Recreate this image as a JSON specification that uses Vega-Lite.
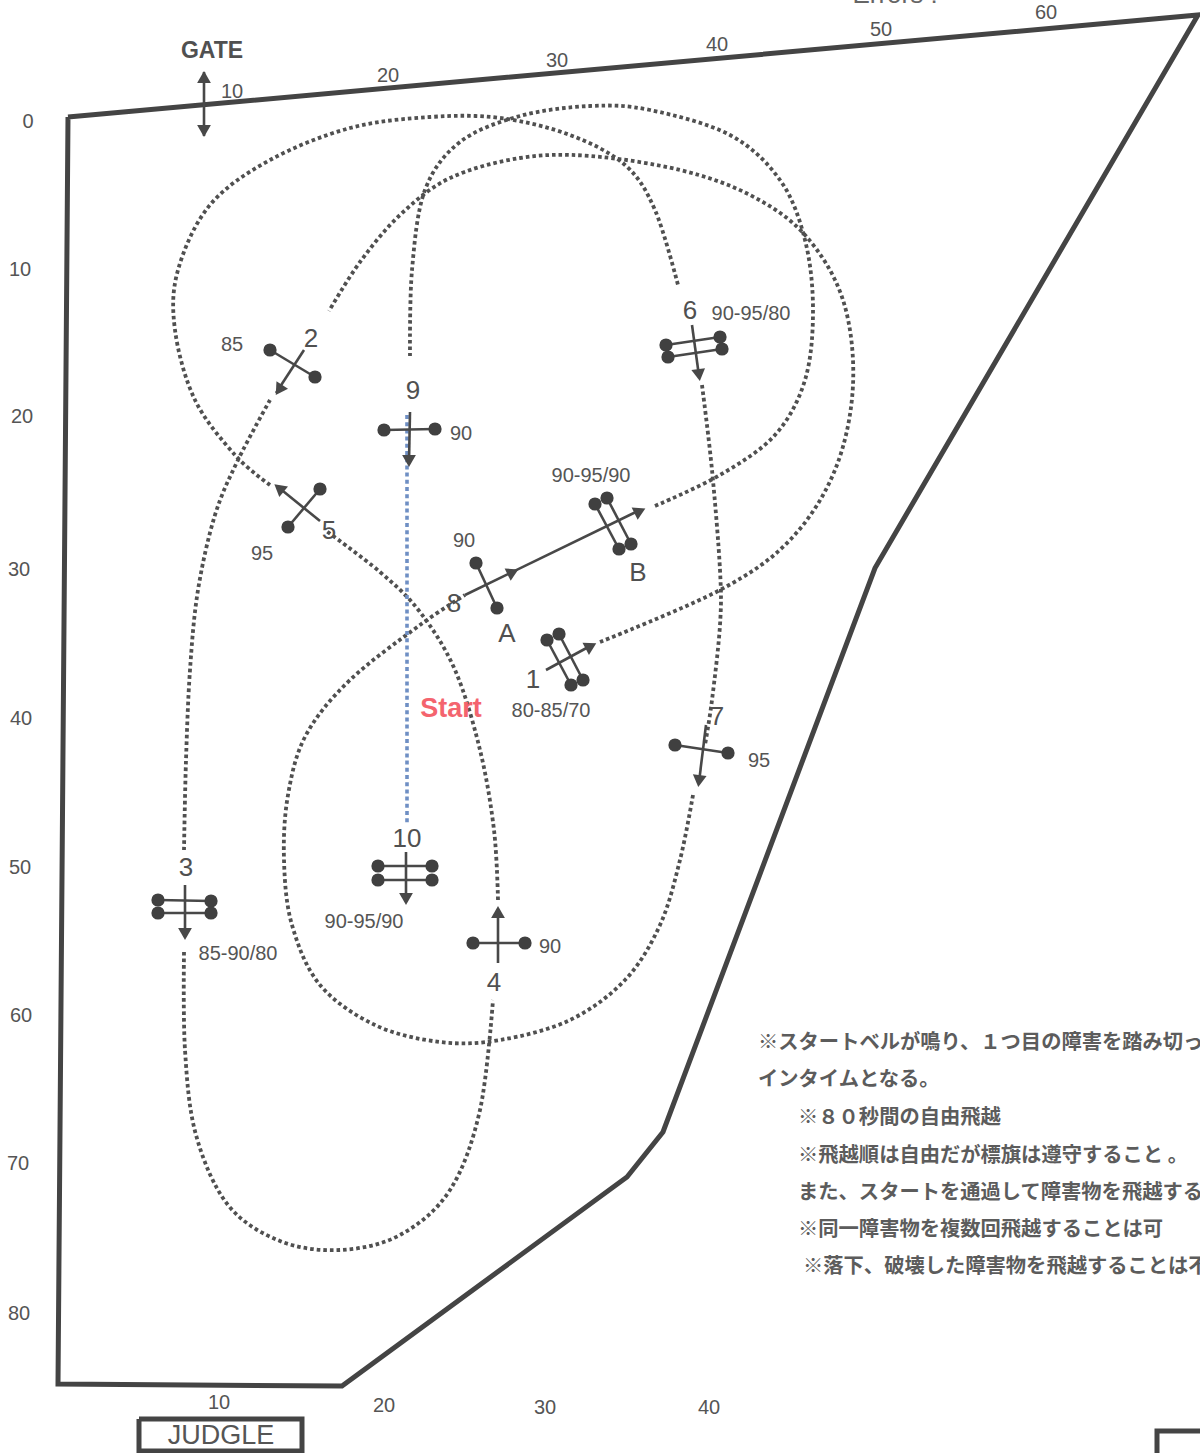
{"$schema":"https://vega.github.io/schema/vega-lite/v6.json","autosize":{"type":"none"},"width":1200,"height":1453,"padding":0,"background":"white","view":{"stroke":null},
"datasets":{
"walls":[{"p":"fence","i":0,"x":68,"y":117},{"p":"fence","i":1,"x":1198,"y":15},{"p":"fence","i":2,"x":875,"y":568},{"p":"fence","i":3,"x":663,"y":1132},{"p":"fence","i":4,"x":627,"y":1177},{"p":"fence","i":5,"x":342,"y":1386},{"p":"fence","i":6,"x":58,"y":1384},{"p":"fence","i":7,"x":68,"y":117},
{"p":"judge","i":0,"x":139,"y":1419},{"p":"judge","i":1,"x":302,"y":1419},{"p":"judge","i":2,"x":302,"y":1451},{"p":"judge","i":3,"x":139,"y":1451},{"p":"judge","i":4,"x":139,"y":1419},
{"p":"box","i":0,"x":1157,"y":1453},{"p":"box","i":1,"x":1157,"y":1431},{"p":"box","i":2,"x":1200,"y":1431}],
"course":[
{"p":"a","i":0,"x":600,"y":642},{"p":"a","i":1,"x":720,"y":590},{"p":"a","i":2,"x":790,"y":540},{"p":"a","i":3,"x":835,"y":470},{"p":"a","i":4,"x":853,"y":385},{"p":"a","i":5,"x":843,"y":300},{"p":"a","i":6,"x":805,"y":235},{"p":"a","i":7,"x":750,"y":195},{"p":"a","i":8,"x":680,"y":170},{"p":"a","i":9,"x":590,"y":156},{"p":"a","i":10,"x":520,"y":158},{"p":"a","i":11,"x":450,"y":178},{"p":"a","i":12,"x":400,"y":215},{"p":"a","i":13,"x":360,"y":262},{"p":"a","i":14,"x":329,"y":311},
{"p":"b","i":0,"x":270,"y":400},{"p":"b","i":1,"x":238,"y":460},{"p":"b","i":2,"x":215,"y":515},{"p":"b","i":3,"x":198,"y":590},{"p":"b","i":4,"x":190,"y":670},{"p":"b","i":5,"x":186,"y":760},{"p":"b","i":6,"x":184,"y":850},
{"p":"c","i":0,"x":184,"y":952},{"p":"c","i":1,"x":185,"y":1050},{"p":"c","i":2,"x":196,"y":1135},{"p":"c","i":3,"x":228,"y":1205},{"p":"c","i":4,"x":280,"y":1241},{"p":"c","i":5,"x":340,"y":1250},{"p":"c","i":6,"x":400,"y":1235},{"p":"c","i":7,"x":450,"y":1190},{"p":"c","i":8,"x":480,"y":1110},{"p":"c","i":9,"x":493,"y":1000},
{"p":"d","i":0,"x":498,"y":900},{"p":"d","i":1,"x":494,"y":830},{"p":"d","i":2,"x":480,"y":750},{"p":"d","i":3,"x":455,"y":670},{"p":"d","i":4,"x":420,"y":612},{"p":"d","i":5,"x":380,"y":572},{"p":"d","i":6,"x":325,"y":530},
{"p":"e","i":0,"x":270,"y":485},{"p":"e","i":1,"x":235,"y":455},{"p":"e","i":2,"x":195,"y":400},{"p":"e","i":3,"x":175,"y":330},{"p":"e","i":4,"x":178,"y":270},{"p":"e","i":5,"x":210,"y":205},{"p":"e","i":6,"x":270,"y":160},{"p":"e","i":7,"x":350,"y":128},{"p":"e","i":8,"x":430,"y":117},{"p":"e","i":9,"x":500,"y":118},{"p":"e","i":10,"x":570,"y":135},{"p":"e","i":11,"x":625,"y":165},{"p":"e","i":12,"x":655,"y":210},{"p":"e","i":13,"x":678,"y":285},
{"p":"f","i":0,"x":702,"y":385},{"p":"f","i":1,"x":712,"y":470},{"p":"f","i":2,"x":720,"y":570},{"p":"f","i":3,"x":720,"y":625},{"p":"f","i":4,"x":712,"y":700},{"p":"f","i":5,"x":705,"y":745},
{"p":"g","i":0,"x":693,"y":795},{"p":"g","i":1,"x":680,"y":860},{"p":"g","i":2,"x":660,"y":925},{"p":"g","i":3,"x":625,"y":980},{"p":"g","i":4,"x":570,"y":1020},{"p":"g","i":5,"x":500,"y":1040},{"p":"g","i":6,"x":440,"y":1042},{"p":"g","i":7,"x":375,"y":1025},{"p":"g","i":8,"x":320,"y":985},{"p":"g","i":9,"x":292,"y":925},{"p":"g","i":10,"x":284,"y":860},{"p":"g","i":11,"x":288,"y":795},{"p":"g","i":12,"x":306,"y":735},{"p":"g","i":13,"x":350,"y":680},{"p":"g","i":14,"x":420,"y":625},{"p":"g","i":15,"x":465,"y":595},
{"p":"h","i":0,"x":655,"y":506},{"p":"h","i":1,"x":720,"y":475},{"p":"h","i":2,"x":775,"y":435},{"p":"h","i":3,"x":805,"y":380},{"p":"h","i":4,"x":813,"y":310},{"p":"h","i":5,"x":805,"y":240},{"p":"h","i":6,"x":780,"y":180},{"p":"h","i":7,"x":730,"y":135},{"p":"h","i":8,"x":650,"y":110},{"p":"h","i":9,"x":590,"y":106},{"p":"h","i":10,"x":520,"y":116},{"p":"h","i":11,"x":460,"y":142},{"p":"h","i":12,"x":425,"y":190},{"p":"h","i":13,"x":412,"y":270},{"p":"h","i":14,"x":410,"y":356}],
"startLine":[{"p":"s","i":0,"x":407,"y":415},{"p":"s","i":1,"x":407,"y":825}],
"stems":[
{"p":"r2","i":0,"x":270,"y":350},{"p":"r2","i":1,"x":315,"y":377},{"p":"a2","i":0,"x":304,"y":350},{"p":"a2","i":1,"x":276,"y":393},
{"p":"r9","i":0,"x":384,"y":430},{"p":"r9","i":1,"x":435,"y":429},{"p":"a9","i":0,"x":410,"y":412},{"p":"a9","i":1,"x":409,"y":462},
{"p":"r5","i":0,"x":320,"y":489},{"p":"r5","i":1,"x":288,"y":527},{"p":"a5","i":0,"x":320,"y":521},{"p":"a5","i":1,"x":278,"y":487},
{"p":"r6a","i":0,"x":666,"y":345},{"p":"r6a","i":1,"x":720,"y":337},{"p":"r6b","i":0,"x":668,"y":357},{"p":"r6b","i":1,"x":722,"y":349},{"p":"a6","i":0,"x":692,"y":325},{"p":"a6","i":1,"x":699,"y":376},
{"p":"rBa","i":0,"x":595,"y":504},{"p":"rBa","i":1,"x":619,"y":549},{"p":"rBb","i":0,"x":607,"y":498},{"p":"rBb","i":1,"x":631,"y":544},{"p":"a8","i":0,"x":465,"y":595},{"p":"a8","i":1,"x":640,"y":510},
{"p":"rA","i":0,"x":476,"y":563},{"p":"rA","i":1,"x":497,"y":608},
{"p":"r1a","i":0,"x":547,"y":640},{"p":"r1a","i":1,"x":571,"y":685},{"p":"r1b","i":0,"x":559,"y":634},{"p":"r1b","i":1,"x":583,"y":680},{"p":"a1","i":0,"x":546,"y":670},{"p":"a1","i":1,"x":592,"y":645},
{"p":"r7","i":0,"x":675,"y":745},{"p":"r7","i":1,"x":728,"y":753},{"p":"a7","i":0,"x":706,"y":725},{"p":"a7","i":1,"x":699,"y":782},
{"p":"r3a","i":0,"x":158,"y":900},{"p":"r3a","i":1,"x":211,"y":901},{"p":"r3b","i":0,"x":158,"y":913},{"p":"r3b","i":1,"x":211,"y":913},{"p":"a3","i":0,"x":185,"y":885},{"p":"a3","i":1,"x":185,"y":935},
{"p":"r10a","i":0,"x":378,"y":866},{"p":"r10a","i":1,"x":432,"y":866},{"p":"r10b","i":0,"x":378,"y":880},{"p":"r10b","i":1,"x":432,"y":880},{"p":"a10","i":0,"x":406,"y":852},{"p":"a10","i":1,"x":406,"y":900},
{"p":"r4","i":0,"x":473,"y":943},{"p":"r4","i":1,"x":525,"y":943},{"p":"a4","i":0,"x":498,"y":963},{"p":"a4","i":1,"x":498,"y":910},
{"p":"gate","i":0,"x":204,"y":72},{"p":"gate","i":1,"x":204,"y":136}],
"heads":[{"x":279,"y":390,"a":213},{"x":409,"y":461,"a":180},{"x":279,"y":488,"a":309},{"x":699,"y":375,"a":172},{"x":640,"y":511,"a":64},{"x":513,"y":572,"a":64},{"x":591,"y":646,"a":62},{"x":699,"y":781,"a":187},{"x":185,"y":934,"a":180},{"x":406,"y":899,"a":180},{"x":498,"y":912,"a":0},{"x":204,"y":77,"a":0},{"x":204,"y":131,"a":180}],
"posts":[{"x":270,"y":350},{"x":315,"y":377},{"x":384,"y":430},{"x":435,"y":429},{"x":320,"y":489},{"x":288,"y":527},{"x":666,"y":345},{"x":668,"y":357},{"x":720,"y":337},{"x":722,"y":349},{"x":595,"y":504},{"x":607,"y":498},{"x":619,"y":549},{"x":631,"y":544},{"x":476,"y":563},{"x":497,"y":608},{"x":547,"y":640},{"x":559,"y":634},{"x":571,"y":685},{"x":583,"y":680},{"x":675,"y":745},{"x":728,"y":753},{"x":158,"y":900},{"x":158,"y":913},{"x":211,"y":901},{"x":211,"y":913},{"x":378,"y":866},{"x":378,"y":880},{"x":432,"y":866},{"x":432,"y":880},{"x":473,"y":943},{"x":525,"y":943}],
"small":[{"t":"0","x":28,"y":122},{"t":"10","x":20,"y":270},{"t":"20","x":22,"y":417},{"t":"30","x":19,"y":570},{"t":"40","x":21,"y":719},{"t":"50","x":20,"y":868},{"t":"60","x":21,"y":1016},{"t":"70","x":18,"y":1164},{"t":"80","x":19,"y":1314},{"t":"10","x":232,"y":92},{"t":"20","x":388,"y":76},{"t":"30","x":557,"y":61},{"t":"40","x":717,"y":45},{"t":"50","x":881,"y":30},{"t":"60","x":1046,"y":13},{"t":"10","x":219,"y":1403},{"t":"20","x":384,"y":1406},{"t":"30","x":545,"y":1408},{"t":"40","x":709,"y":1408},
{"t":"85","x":232,"y":345},{"t":"90","x":461,"y":434},{"t":"95","x":262,"y":554},{"t":"90-95/80","x":751,"y":314},{"t":"90-95/90","x":591,"y":476},{"t":"90","x":464,"y":541},{"t":"80-85/70","x":551,"y":711},{"t":"95","x":759,"y":761},{"t":"85-90/80","x":238,"y":954},{"t":"90-95/90","x":364,"y":922},{"t":"90","x":550,"y":947}],
"jumps":[{"t":"1","x":533,"y":680},{"t":"2","x":311,"y":339},{"t":"3","x":186,"y":868},{"t":"4","x":494,"y":983},{"t":"5","x":329,"y":531},{"t":"6","x":690,"y":311},{"t":"7","x":717,"y":717},{"t":"8","x":454,"y":604},{"t":"9","x":413,"y":391},{"t":"10","x":407,"y":839},{"t":"A","x":507,"y":634},{"t":"B","x":638,"y":573}],
"gate":[{"t":"GATE","x":212,"y":51}],
"judge":[{"t":"JUDGLE","x":221,"y":1436}],
"errors":[{"t":"Errors :","x":895,"y":-5}],
"start":[{"t":"Start","x":451,"y":709}],
"notes":[{"t":"※スタートベルが鳴り、１つ目の障害を踏み切っ","x":758,"y":1043},{"t":"インタイムとなる。","x":758,"y":1080},{"t":"※８０秒間の自由飛越","x":798,"y":1118},{"t":"※飛越順は自由だが標旗は遵守すること 。","x":798,"y":1156},{"t":"また、スタートを通過して障害物を飛越する","x":798,"y":1193},{"t":"※同一障害物を複数回飛越することは可","x":798,"y":1230},{"t":"※落下、破壊した障害物を飛越することは不","x":803,"y":1267}]
},
"encoding":{"x":{"field":"x","type":"quantitative","axis":null,"scale":{"domain":[0,1200],"nice":false,"zero":false}},"y":{"field":"y","type":"quantitative","axis":null,"scale":{"domain":[1453,0],"nice":false,"zero":false}}},
"layer":[
{"data":{"name":"course"},"mark":{"type":"line","interpolate":"cardinal","stroke":"#505050","strokeWidth":3.8,"strokeDash":[3.6,3]},"encoding":{"detail":{"field":"p"},"order":{"field":"i"}}},
{"data":{"name":"startLine"},"mark":{"type":"line","stroke":"#6f8fc4","strokeWidth":3.6,"strokeDash":[4,3.2]},"encoding":{"order":{"field":"i"}}},
{"data":{"name":"walls"},"mark":{"type":"line","stroke":"#444444","strokeWidth":5,"strokeJoin":"miter"},"encoding":{"detail":{"field":"p"},"order":{"field":"i"}}},
{"data":{"name":"stems"},"mark":{"type":"line","stroke":"#484848","strokeWidth":2.6},"encoding":{"detail":{"field":"p"},"order":{"field":"i"}}},
{"data":{"name":"heads"},"mark":{"type":"point","shape":"triangle-up","filled":true,"opacity":1,"color":"#484848","size":190},"encoding":{"angle":{"field":"a","type":"quantitative","scale":null}}},
{"data":{"name":"posts"},"mark":{"type":"point","shape":"circle","filled":true,"opacity":1,"color":"#404040","size":175}},
{"data":{"name":"small"},"mark":{"type":"text","font":"Liberation Sans","fontSize":20,"color":"#555555","baseline":"middle","align":"center"},"encoding":{"text":{"field":"t"}}},
{"data":{"name":"jumps"},"mark":{"type":"text","font":"Liberation Sans","fontSize":26,"color":"#505050","baseline":"middle","align":"center"},"encoding":{"text":{"field":"t"}}},
{"data":{"name":"gate"},"mark":{"type":"text","font":"Liberation Sans","fontWeight":"bold","fontSize":23,"color":"#505050","baseline":"middle","align":"center"},"encoding":{"text":{"field":"t"}}},
{"data":{"name":"judge"},"mark":{"type":"text","font":"Liberation Sans","fontSize":27,"color":"#555555","baseline":"middle","align":"center"},"encoding":{"text":{"field":"t"}}},
{"data":{"name":"errors"},"mark":{"type":"text","font":"Liberation Sans","fontSize":26,"color":"#666666","baseline":"middle","align":"center"},"encoding":{"text":{"field":"t"}}},
{"data":{"name":"start"},"mark":{"type":"text","font":"Liberation Sans","fontWeight":"bold","fontSize":27,"color":"#f4646e","baseline":"middle","align":"center"},"encoding":{"text":{"field":"t"}}},
{"data":{"name":"notes"},"mark":{"type":"text","font":"Noto Sans CJK JP","fontWeight":"bold","fontSize":20.3,"color":"#5c5c5c","baseline":"middle","align":"left"},"encoding":{"text":{"field":"t"}}}
]}
